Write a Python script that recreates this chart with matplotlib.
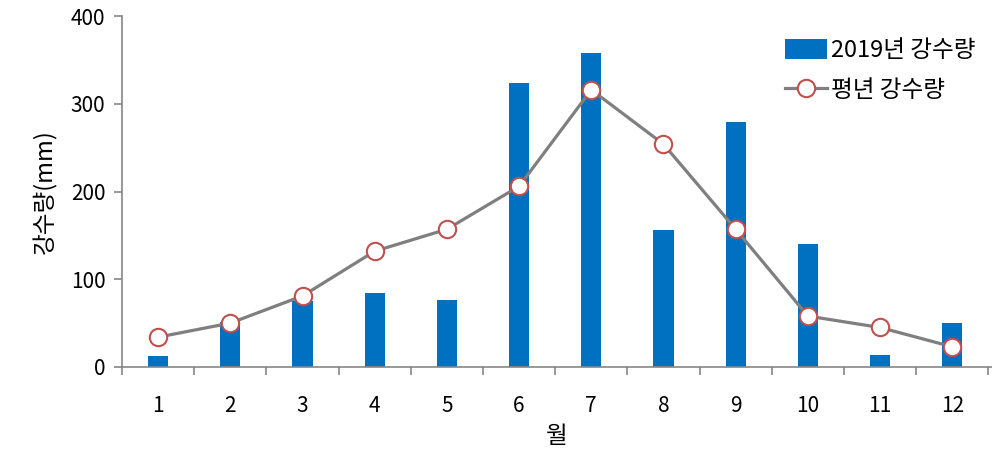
import numpy as np
import matplotlib
matplotlib.use("Agg")
import matplotlib.pyplot as plt

plt.rcParams['font.family'] = ['Noto Sans CJK KR', 'DejaVu Sans']

months = [str(m) for m in range(1, 13)]
rain_2019 = [13, 51, 75, 84, 76, 324, 358, 156, 279, 140, 14, 50]
rain_normal = [34, 50, 81, 132, 157, 206, 316, 254, 157, 58, 45, 23]

x = np.arange(1, 13)
axis_gray = "#868686"

fig = plt.figure(figsize=(9.92, 4.61), dpi=100)
ax = fig.add_axes([0.123, 0.204, 0.877, 0.761])

bars = ax.bar(x, rain_2019, width=0.28, color="#0070c0", label="2019년 강수량", zorder=2)
line, = ax.plot(x, rain_normal, color="#7f7f7f", linewidth=2.3, marker="o",
                markersize=12.5, markerfacecolor="white", markeredgecolor="#c0504d",
                markeredgewidth=1.5, label="평년 강수량", zorder=3)

ax.set_xlim(0.5, 12.55)
ax.set_ylim(0, 400)
ax.set_yticks([0, 100, 200, 300, 400])
ax.set_xticks(x)
ax.set_xticklabels(months)
ax.set_xticks(np.arange(0.5, 12.6, 1), minor=True)
ax.tick_params(axis="x", which="major", length=0, pad=20, labelsize=15)
ax.tick_params(axis="x", which="minor", length=6, color=axis_gray, width=1.2)
ax.tick_params(axis="y", length=6, color=axis_gray, width=1.2, labelsize=15, pad=6)

for side in ["top", "right"]:
    ax.spines[side].set_visible(False)
for side in ["left", "bottom"]:
    ax.spines[side].set_color(axis_gray)
    ax.spines[side].set_linewidth(1.2)

ax.set_xlabel("월", fontsize=17, labelpad=6)
ax.set_ylabel("강수량(mm)", fontsize=17, labelpad=10)

ax.legend([bars, line], ["2019년 강수량", "평년 강수량"],
          loc="upper right", bbox_to_anchor=(1.005, 0.995), frameon=False,
          fontsize=17, handlelength=1.8, handleheight=0.9,
          handletextpad=0.15, labelspacing=0.7)

fig.savefig("out.png", dpi=100)
